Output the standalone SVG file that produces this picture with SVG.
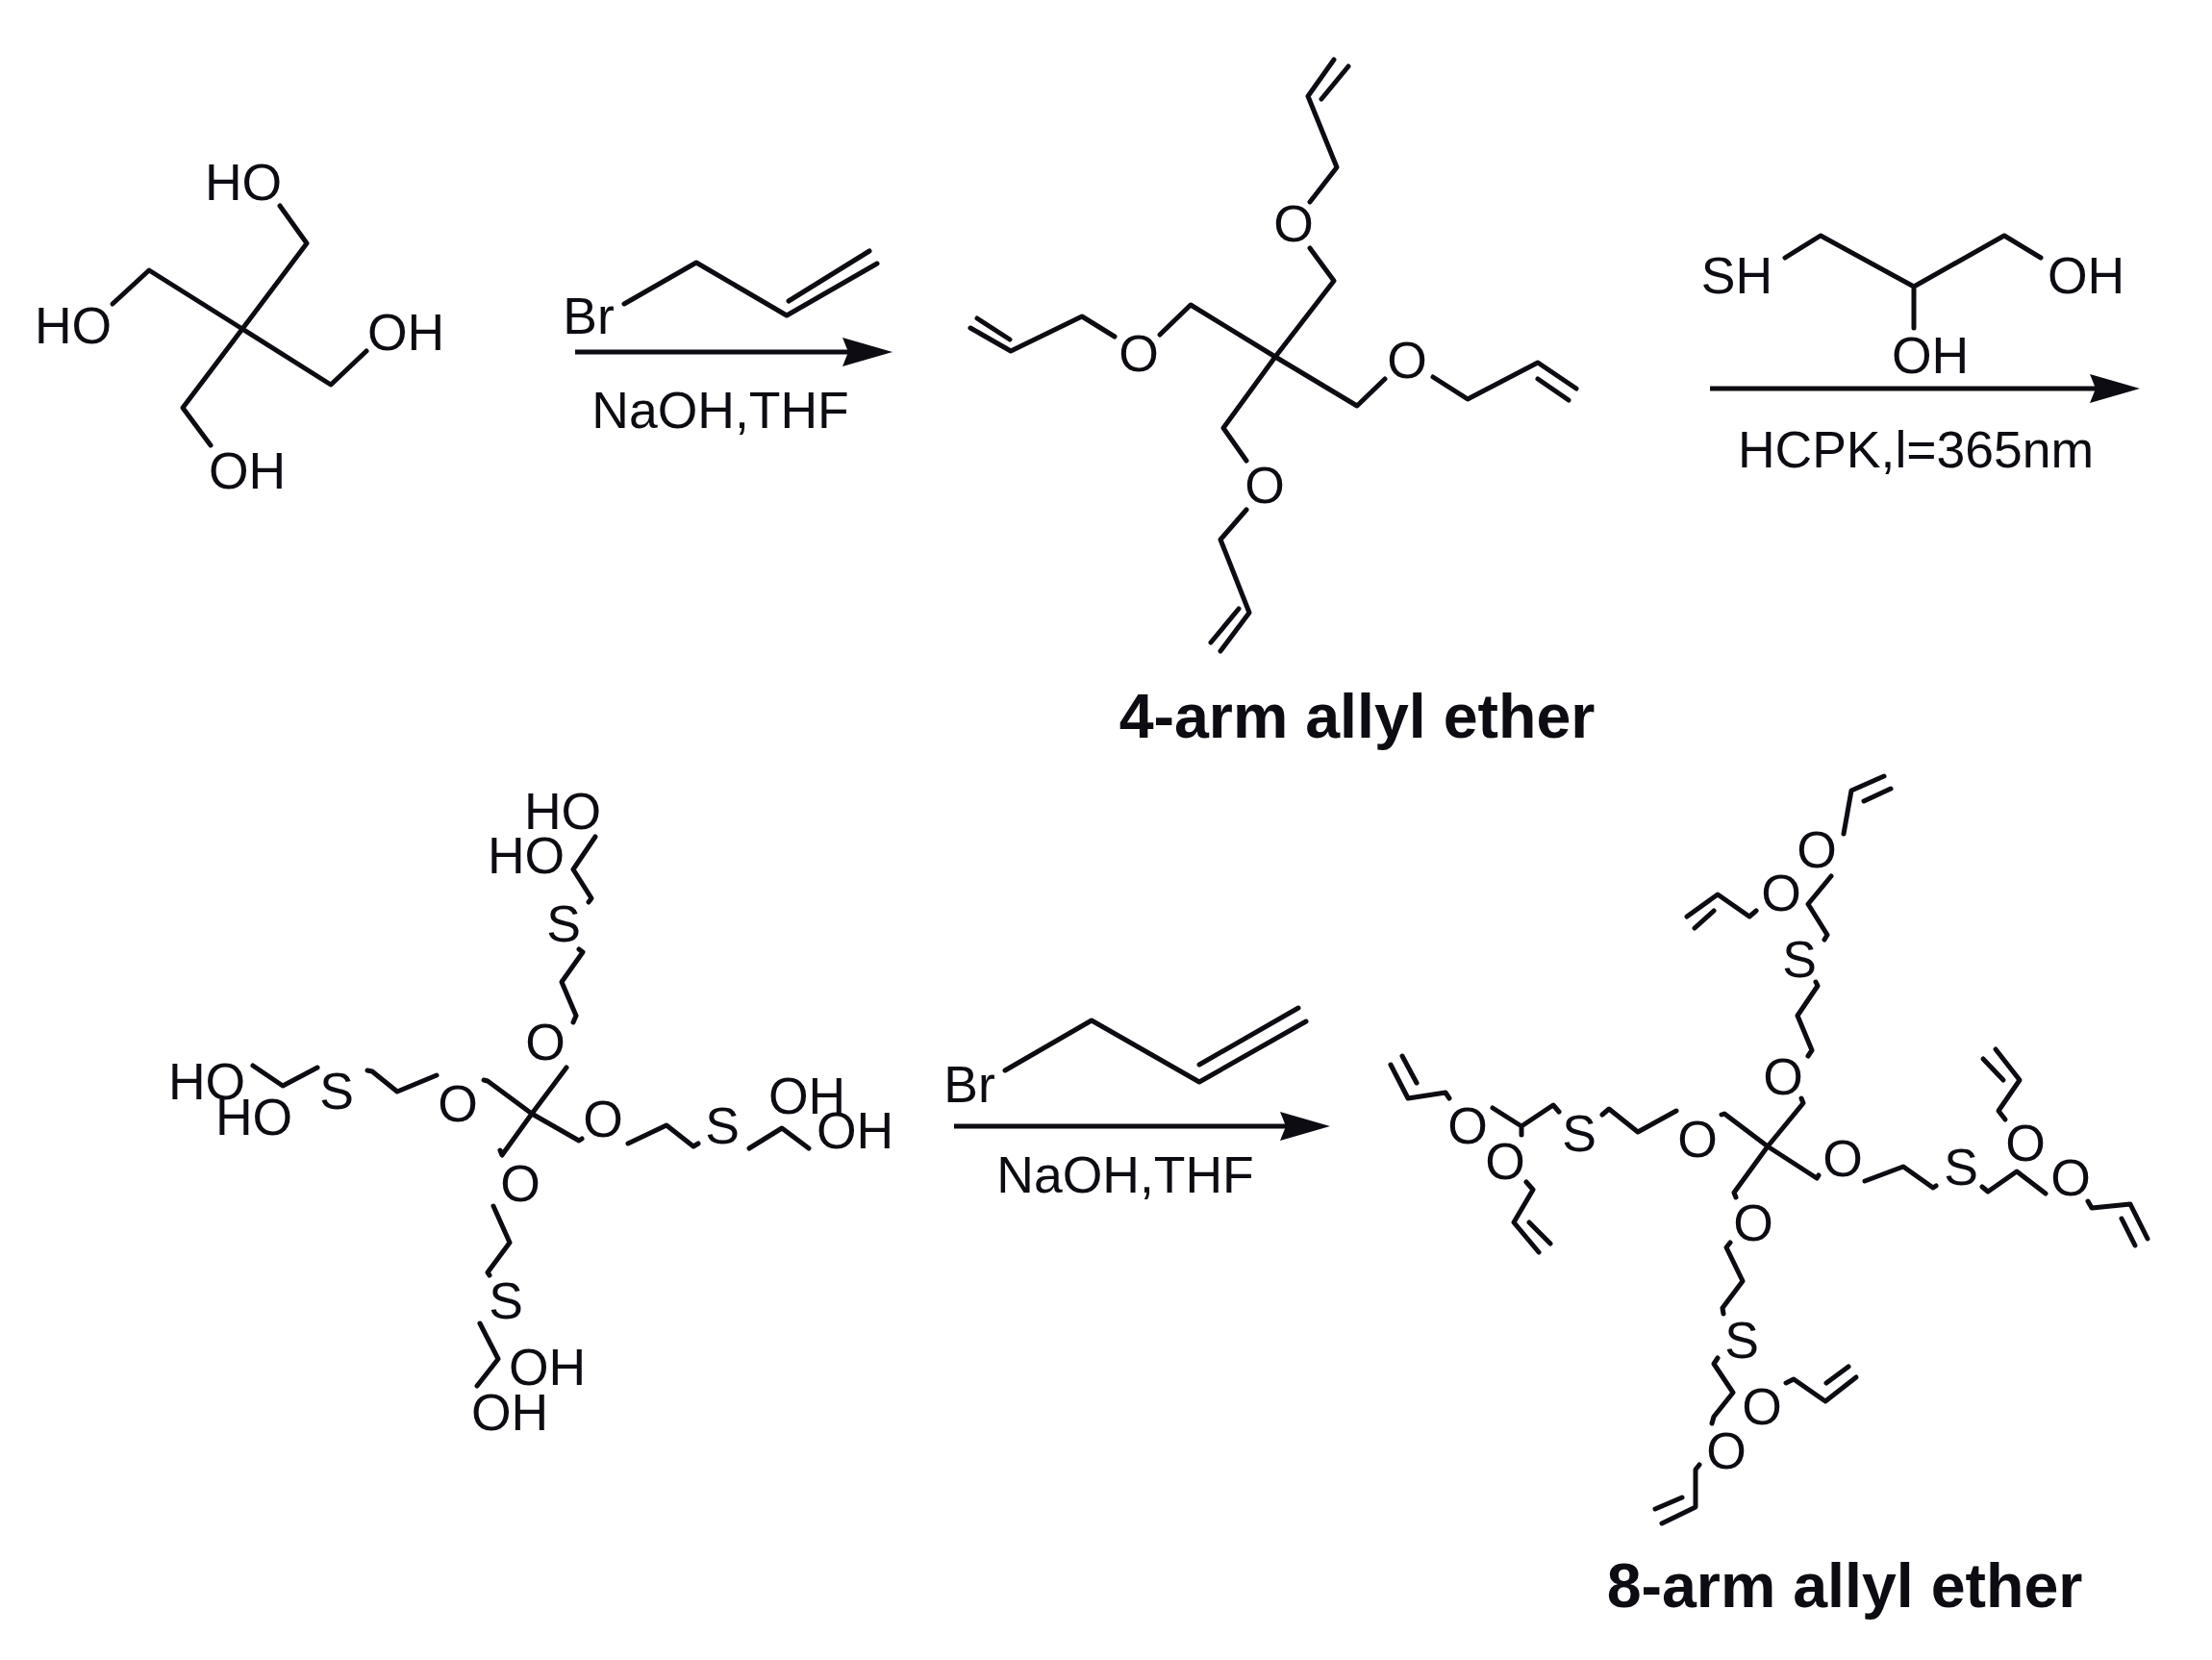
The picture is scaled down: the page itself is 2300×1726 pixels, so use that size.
<svg xmlns="http://www.w3.org/2000/svg" width="2300" height="1726" viewBox="0 0 2300 1726">
<style>
text{font-family:"Liberation Sans",Arial,sans-serif;font-size:53.5px;fill:#0c0c12;text-anchor:middle}
.t{font-weight:bold;font-size:64.5px}
.b{fill:none;stroke:#0c0c12;stroke-width:5;stroke-linejoin:round;stroke-linecap:round}
.a{fill:none;stroke:#0c0c12;stroke-width:5}
.h{fill:#0c0c12}
</style>
<defs>
<marker id="ah" markerUnits="userSpaceOnUse" markerWidth="56" markerHeight="32" refX="6" refY="15" orient="auto"><path class="h" d="M0 0L52 15L0 30L6 15Z"/></marker>
</defs>
<rect width="2300" height="1726" fill="#fff"/>
<g id="connectors">
<path class="a" d="M598 366H882" marker-end="url(#ah)"/>
<path class="a" d="M1778 404H2179" marker-end="url(#ah)"/>
<path class="a" d="M992 1171H1337" marker-end="url(#ah)"/>
</g>
<g id="pentaerythritol">
<path class="b" d="M291 214L319 253L252 342L344 400L381 365"/>
<path class="b" d="M117 316L155 281L252 342L190 424L219 463"/>
<text x="253" y="208">HO</text><text x="76" y="357">HO</text><text x="422" y="364">OH</text><text x="257" y="508">OH</text>
</g>
<g id="allyl-bromide-1">
<path class="b" d="M649 316L724 273L818 328L912 274M820 313L904 261"/>
<text x="612" y="347">Br</text>
</g>
<text id="cond-1" x="749" y="445">NaOH,THF</text>
<g id="four-arm">
<path class="b" d="M1326 371L1387 292L1362 258M1362 210L1390 174L1360 100L1387 62M1374 103L1402 69"/>
<path class="b" d="M1326 371L1238 317L1206 348M1159 350L1125 329L1051 365L1009 341M1050 353L1016 331"/>
<path class="b" d="M1326 371L1411 422L1440 394M1490 392L1526 415L1599 377L1639 404M1599 394L1631 416"/>
<path class="b" d="M1326 371L1272 445L1296 479M1296 530L1269 561L1299 637L1269 677M1288 633L1259 668"/>
<text x="1345" y="251">O</text><text x="1184" y="386">O</text><text x="1463" y="393">O</text><text x="1315" y="523">O</text>
<text class="t" x="1411" y="767">4-arm allyl ether</text>
</g>
<g id="thioglycerol">
<path class="b" d="M1856 268L1893 245L1990 298L2084 245L2122 268M1990 298V341"/>
<text x="1806" y="305">SH</text><text x="2169" y="305">OH</text><text x="2007" y="388">OH</text>
</g>
<text id="cond-2" x="1992" y="486">HCPK,l=365nm</text>
<g id="four-arm-thiol">
<path class="b" d="M553 1158L589 1110M599 1056L596 1063M599 1056L584 1021L606 990L602 987M612 938L615 934L596 904L619 870"/>
<path class="b" d="M553 1158L507 1124L503 1123M454 1118L413 1135L387 1114L382 1113M330 1110L294 1129L263 1108"/>
<path class="b" d="M553 1158L602 1186L605 1184M653 1189L693 1170L721 1192L726 1189M779 1194L813 1173L841 1194"/>
<path class="b" d="M553 1158L522 1201L520 1196M513 1254L530 1292L507 1323L509 1326M499 1376L518 1413L496 1441"/>
<text x="567" y="1102">O</text><text x="586" y="979">S</text><text x="585" y="862">HO</text><text x="547" y="908">HO</text>
<text x="476" y="1166">O</text><text x="350" y="1153">S</text><text x="215" y="1143">HO</text><text x="264" y="1180">HO</text>
<text x="627" y="1182">O</text><text x="751" y="1189">S</text><text x="839" y="1158">OH</text><text x="889" y="1194">OH</text>
<text x="541" y="1249">O</text><text x="526" y="1371">S</text><text x="569" y="1440">OH</text><text x="530" y="1487">OH</text>
</g>
<g id="allyl-bromide-2">
<path class="b" d="M1045 1113L1135 1061L1247 1125L1358 1062M1247 1107L1350 1048"/>
<text x="1008" y="1146">Br</text>
</g>
<text id="cond-3" x="1170" y="1240">NaOH,THF</text>
<g id="eight-arm">
<path class="b" d="M1838 1192L1875 1147L1873 1142M1880 1098L1884 1092L1869 1056L1890 1025L1888 1021M1897 977L1900 972L1880 940L1904 911"/>
<path class="b" d="M1917 867L1925 822L1959 807M1938 833L1966 820"/>
<path class="b" d="M1826 947L1819 953L1786 930L1754 953M1782 947L1762 965"/>
<path class="b" d="M1838 1192L1793 1158L1790 1159M1743 1155L1703 1177L1673 1153L1666 1159M1621 1156L1615 1149L1582 1171L1552 1152M1582 1171V1180"/>
<path class="b" d="M1507 1142L1503 1136L1464 1142L1446 1107M1473 1126L1458 1098"/>
<path class="b" d="M1587 1229L1594 1237L1574 1271L1600 1302M1590 1271L1612 1293"/>
<path class="b" d="M1838 1192L1889 1225L1891 1222M1939 1228L1979 1213L2010 1235L2013 1233M2061 1234L2067 1239L2097 1218L2127 1241"/>
<path class="b" d="M2075 1091L2100 1123L2078 1155L2085 1164M2062 1101L2083 1123"/>
<path class="b" d="M2171 1249L2175 1256L2215 1252L2233 1288M2206 1267L2220 1295"/>
<path class="b" d="M1838 1192L1803 1240L1805 1245M1799 1292L1795 1297L1812 1332L1791 1360L1792 1366M1786 1412L1782 1418L1802 1448L1782 1473L1780 1480"/>
<path class="b" d="M1857 1438L1865 1434L1898 1457L1930 1432M1899 1438L1922 1421"/>
<path class="b" d="M1767 1523L1763 1528V1567L1728 1584M1721 1569L1749 1557"/>
<text x="1854" y="1138">O</text><text x="1871" y="1016">S</text><text x="1889" y="902">O</text><text x="1852" y="947">O</text>
<text x="1765" y="1203">O</text><text x="1642" y="1197">S</text><text x="1526" y="1189">O</text><text x="1565" y="1226">O</text>
<text x="1916" y="1223">O</text><text x="2039" y="1232">S</text><text x="2106" y="1207">O</text><text x="2153" y="1243">O</text>
<text x="1823" y="1290">O</text><text x="1811" y="1412">S</text><text x="1832" y="1481">O</text><text x="1795" y="1527">O</text>
<text class="t" x="1918" y="1671">8-arm allyl ether</text>
</g>
</svg>
